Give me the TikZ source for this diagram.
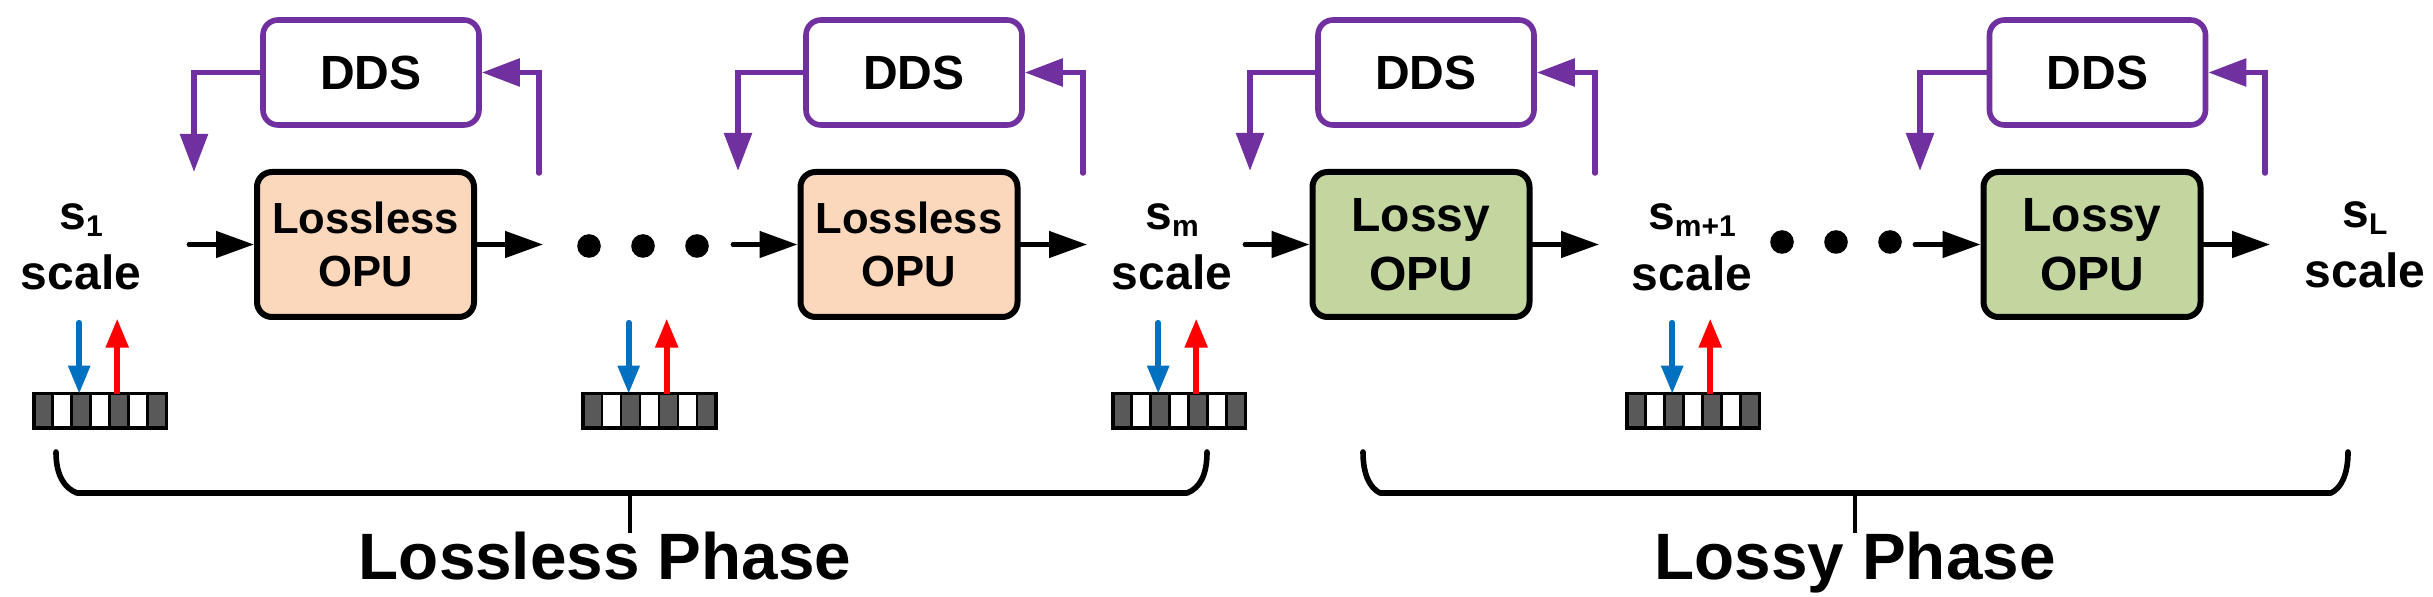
\documentclass[tikz,border=0pt]{standalone}
\usepackage{fontspec}
\setmainfont{Liberation Sans}
\usetikzlibrary{arrows.meta,calc}
\definecolor{ddspurple}{HTML}{7030A0}
\definecolor{rdblue}{HTML}{0070C0}
\definecolor{wrred}{HTML}{FF0000}
\definecolor{peach}{HTML}{FBD7BB}
\definecolor{olivefill}{HTML}{C4D69F}
\definecolor{cellgray}{HTML}{595959}
\newcommand\subtx[1]{\raisebox{-1.75pt}{\fontsize{7.5}{7.5}\selectfont #1}}
\begin{document}
\begin{tikzpicture}[x=0.25pt,y=-0.25pt,
  opubox/.style={draw=black, line width=1.5pt, rounded corners=3.75pt, minimum width=54.25pt, minimum height=36.25pt, inner sep=0pt, align=center},
  lossless/.style={opubox, fill=peach, font=\bfseries\fontsize{10.9}{13.25}\selectfont},
  lossy/.style={opubox, fill=olivefill, font=\bfseries\fontsize{12}{14.75}\selectfont},
  ddsbox/.style={draw=ddspurple, fill=white, line width=1.4pt, rounded corners=3.75pt, minimum width=54pt, minimum height=26.25pt, inner sep=0pt, font=\bfseries\fontsize{12}{14}\selectfont},
  lbl/.style={anchor=base, inner sep=0pt, font=\bfseries\fontsize{12}{14}\selectfont},
  flow/.style={-{Triangle[length=9.5pt,width=6.5pt]}, line width=1.2pt, line cap=round},
  fb/.style={-{Triangle[length=9.5pt,width=6.75pt]}, draw=ddspurple, line width=1.4pt, line cap=round},
  rdarrow/.style={-{Triangle[length=7pt,width=5.25pt]}, draw=rdblue, fill=rdblue, line width=1.4pt, line cap=round},
  wrarrow/.style={-{Triangle[length=7.25pt,width=5.5pt]}, draw=wrred, fill=wrred, line width=1.4pt},
  buf/.style={draw=black, line width=0.9pt, minimum width=32.25pt, minimum height=7.75pt, inner sep=0pt},
  dotn/.style={circle, fill=black, minimum size=5.9pt, inner sep=0pt},
  brace/.style={line width=1.4pt, line cap=round, line join=round},
  phase/.style={anchor=base, inner sep=0pt, font=\bfseries\fontsize{16.4}{19}\selectfont}
]
\useasboundingbox (0,0) rectangle (2433,597);

% DDS boxes
\node[ddsbox] (dds1) at (371,72.5) {DDS};
\node[ddsbox] (dds2) at (914,72.5) {DDS};
\node[ddsbox] (dds3) at (1426,72.5) {DDS};
\node[ddsbox] (dds4) at (2097.5,72.5) {DDS};

% OPU boxes
\node[lossless] (opu1) at (365.5,244.5) {Lossless\\OPU};
\node[lossless] (opu2) at (909,244.5) {Lossless\\OPU};
\node[lossy] (opu3) at (1421,244.5) {Lossy\\OPU};
\node[lossy] (opu4) at (2092,244.5) {Lossy\\OPU};

% scale labels
\node[lbl] (s1) at (81,230) {s\subtx{1}};
\node[lbl] (s1b) at (81,290) {scale};
\node[lbl] (sm) at (1172,230) {s\subtx{m}};
\node[lbl] (smb) at (1172,290) {scale};
\node[lbl] (smp) at (1692,230) {s\subtx{m+1}};
\node[lbl] (smpb) at (1692,291) {scale};
\node[lbl] (sL) at (2365,228) {s\subtx{L}};
\node[lbl] (sLb) at (2365,288) {scale};

% dots
\node[dotn] (d1) at (589,246) {};
\node[dotn] (d2) at (643,246) {};
\node[dotn] (d3) at (697,246) {};
\node[dotn] (d4) at (1782,242) {};
\node[dotn] (d5) at (1836,242) {};
\node[dotn] (d6) at (1890,242) {};

% flow arrows
\coordinate (in1) at (189,244.5);
\coordinate (out1) at (543,244.5);
\coordinate (in2) at (733,244.5);
\coordinate (out2) at (1087,244.5);
\coordinate (in3) at (1245,244.5);
\coordinate (out3) at (1599,244.5);
\coordinate (in4) at (1915,244.5);
\coordinate (out4) at (2270,244.5);
\draw[flow] (in1) -- (opu1.west);
\draw[flow] (opu1.east) -- (out1);
\draw[flow] (in2) -- (opu2.west);
\draw[flow] (opu2.east) -- (out2);
\draw[flow] (in3) -- (opu3.west);
\draw[flow] (opu3.east) -- (out3);
\draw[flow] (in4) -- (opu4.west);
\draw[flow] (opu4.east) -- (out4);

% feedback loops
\coordinate (fbL1) at (194,172);
\coordinate (fbR1) at (539,173);
\coordinate (fbL2) at (738,171);
\coordinate (fbR2) at (1083,173);
\coordinate (fbL3) at (1250,171);
\coordinate (fbR3) at (1595,173);
\coordinate (fbL4) at (1920,171);
\coordinate (fbR4) at (2265,173);
\foreach \k in {1,2,3,4}{
  \draw[fb] (dds\k.west) -| (fbL\k);
  \draw[fb] (fbR\k) |- (dds\k.east);
}

% buffers
\node[buf] (b1) at (100,411) {};
\node[buf] (b2) at (649.5,411) {};
\node[buf] (b3) at (1179,411) {};
\node[buf] (b4) at (1693,411) {};
\foreach \b in {b1,b2,b3,b4}{
  \foreach \i in {0,...,6}{
    \pgfmathsetmacro\j{\i+1}
    \ifodd\i \def\cc{white}\else\def\cc{cellgray}\fi
    \filldraw[fill=\cc, draw=black, line width=0.6pt] ($(\b.south west)!{\i/7}!(\b.south east)$) rectangle ($(\b.north west)!{\j/7}!(\b.north east)$);
  }
  \draw[line width=0.9pt] (\b.south west) rectangle (\b.north east);
  \draw[rdarrow] ($(\b.north west)+(45.5,-71)$) -- ($(\b.north west)+(45.5,0)$);
  \draw[wrarrow] ($(\b.north west)+(83.5,0)$) -- ($(\b.north west)+(83.5,-75)$);
}

% braces
\draw[brace] (56,452) .. controls (56,475) and (64,488) .. (77,493) -- (1187,493) .. controls (1200,488) and (1207,475) .. (1207,452);
\draw[line width=1.1pt] (630,493) -- (630,533);
\draw[brace] (1363,452) .. controls (1363,475) and (1370,488) .. (1380,493) -- (2331,493) .. controls (2341,488) and (2348,475) .. (2348,452);
\draw[line width=1.1pt] (1855,493) -- (1855,533);

\node[phase] (lp) at (605,580) {Lossless Phase};
\node[phase] (yp) at (1855,580) {Lossy Phase};
\end{tikzpicture}
\end{document}
